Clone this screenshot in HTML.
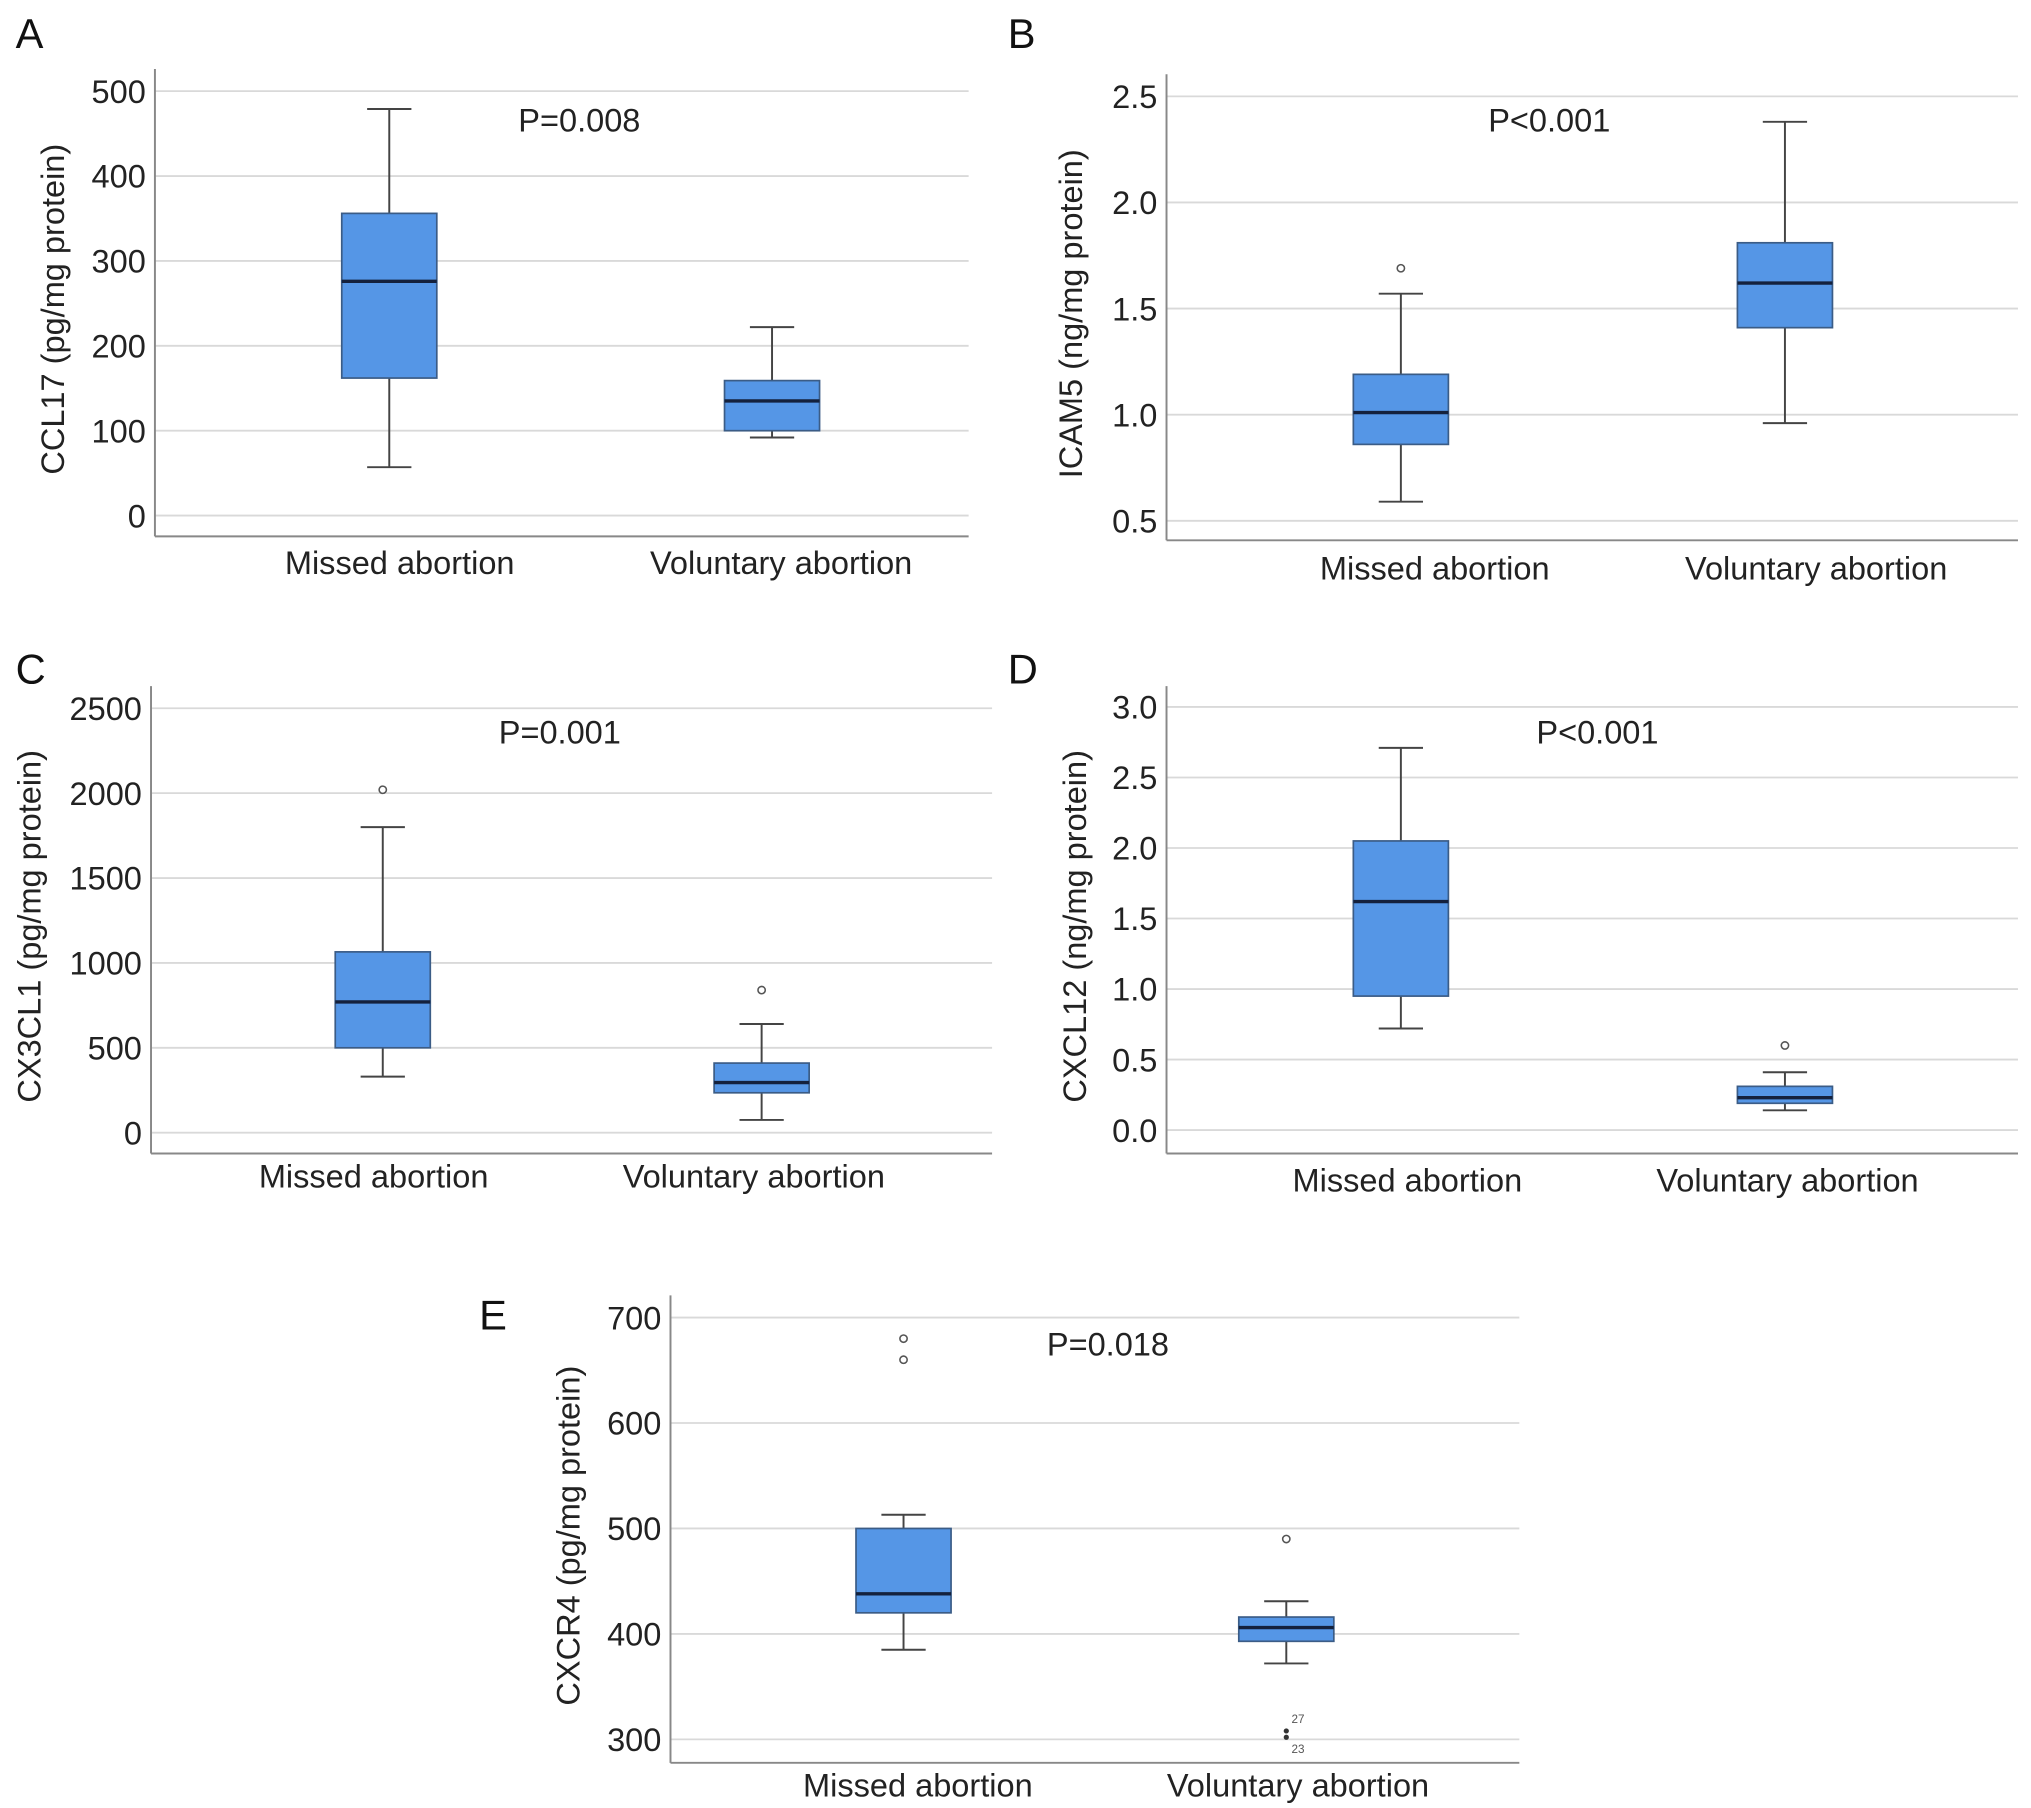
<!DOCTYPE html>
<html><head><meta charset="utf-8"><style>
html,body{margin:0;padding:0;background:#fff;}
svg{display:block;font-family:"Liberation Sans",Arial,sans-serif;}
</style></head><body>
<svg id="fig" width="2031" height="1808" viewBox="0 0 1560 1388.7" xmlns="http://www.w3.org/2000/svg"></svg>
<script>
// Data
const categories = ["Missed abortion", "Voluntary abortion"];
const panelLetters = ["A", "B", "C", "D", "E"];
const yTitles = ["CCL17 (pg/mg protein)", "ICAM5 (ng/mg protein)", "CX3CL1 (pg/mg protein)", "CXCL12 (ng/mg protein)", "CXCR4 (pg/mg protein)"];
const pTexts = ["P=0.008", "P<0.001", "P=0.001", "P<0.001", "P=0.018"];
const ticksA = [0, 100, 200, 300, 400, 500];
const ticksB = [0.5, 1.0, 1.5, 2.0, 2.5];
const ticksC = [0, 500, 1000, 1500, 2000, 2500];
const ticksD = [0.0, 0.5, 1.0, 1.5, 2.0, 2.5, 3.0];
const ticksE = [300, 400, 500, 600, 700];
// [min, q1, median, q3, max] per category
const statsA = [[57, 162, 276, 356, 479], [92, 100, 135, 159, 222]];
const statsB = [[0.59, 0.86, 1.01, 1.19, 1.57], [0.96, 1.41, 1.62, 1.81, 2.38]];
const statsC = [[330, 500, 770, 1065, 1800], [75, 235, 295, 410, 640]];
const statsD = [[0.72, 0.95, 1.62, 2.05, 2.71], [0.14, 0.19, 0.23, 0.31, 0.41]];
const statsE = [[385, 420, 438, 500, 513], [372, 393, 406, 416, 431]];
const outliersA = [[], []];
const outliersB = [[1.69], []];
const outliersC = [[2020], [840]];
const outliersD = [[], [0.60]];
const outliersE = [[660, 680], [490]];
const extremesE = [[], [308, 302]];
const extremeLabelsE = [[], ["27", "23"]];

const NS = "http://www.w3.org/2000/svg";
const svg = document.getElementById("fig");
function mk(tag, attrs, parent, text) {
  const e = document.createElementNS(NS, tag);
  for (const k in attrs) e.setAttribute(k, attrs[k]);
  if (text !== undefined) e.textContent = text;
  (parent || svg).appendChild(e);
  return e;
}
function fmt(v, dec) { return v.toFixed(dec); }

const FS = 25;
const layouts = [
  {ax:119, top:53, bot:412, right:744, y0:396, y1:70, boxX:[299,593], labX:[307,600], labY:441, letter:[12,37], titleX:49, pX:445, pY:101, dec:0},
  {ax:896, top:57, bot:415, right:1550, y0:400, y1:74, boxX:[1076,1371], labX:[1102,1395], labY:445, letter:[774,37], titleX:831, pX:1190, pY:101, dec:1},
  {ax:116, top:527, bot:886, right:762, y0:870, y1:544, boxX:[294,585], labX:[287,579], labY:912, letter:[12,525], titleX:31, pX:430, pY:571, dec:0},
  {ax:896, top:527, bot:886, right:1550, y0:868, y1:543, boxX:[1076,1371], labX:[1081,1373], labY:915, letter:[774,525], titleX:834, pX:1227, pY:571, dec:1},
  {ax:515, top:995, bot:1354, right:1167, y0:1336, y1:1012, boxX:[694,988], labX:[705,997], labY:1380, letter:[368,1021], titleX:445, pX:851, pY:1041, dec:0}
];
const allTicks = [ticksA, ticksB, ticksC, ticksD, ticksE];
const allStats = [statsA, statsB, statsC, statsD, statsE];
const allOut = [outliersA, outliersB, outliersC, outliersD, outliersE];
const allExt = [[[],[]], [[],[]], [[],[]], [[],[]], extremesE];
const allExtLab = [[[],[]], [[],[]], [[],[]], [[],[]], extremeLabelsE];
const panelNames = ["ccl17", "icam5", "cx3cl1", "cxcl12", "cxcr4"];

layouts.forEach((L, p) => {
  const ticks = allTicks[p];
  const tMin = ticks[0], tMax = ticks[ticks.length - 1];
  const y = v => L.y0 + (v - tMin) / (tMax - tMin) * (L.y1 - L.y0);
  const g = mk("g", {});
  
  
  ticks.forEach(t => {
    const gl = mk("line", {x1:L.ax, x2:L.right, y1:y(t), y2:y(t), stroke:"#d9d9d9", "stroke-width":1.4}, g);
    
    
    const tl = mk("text", {x:L.ax - 7, y:y(t) + 9, "text-anchor":"end", "font-size":FS, fill:"#222"}, g, fmt(t, L.dec));
    
    
  });
  const ya = mk("line", {x1:L.ax, x2:L.ax, y1:L.top, y2:L.bot, stroke:"#888", "stroke-width":1.5}, g);
  
  
  const xa = mk("line", {x1:L.ax, x2:L.right, y1:L.bot, y2:L.bot, stroke:"#888", "stroke-width":1.5}, g);
  
  
  const cy = (L.top + L.bot) / 2 + 5;
  const yt = mk("text", {x:L.titleX, y:cy, "text-anchor":"middle", "font-size":FS, fill:"#222", transform:"rotate(-90 " + L.titleX + " " + cy + ")"}, g, yTitles[p]);
  
  
  const pl = mk("text", {x:L.letter[0], y:L.letter[1], "font-size":32, fill:"#111"}, g, panelLetters[p]);
  
  
  const pv = mk("text", {x:L.pX, y:L.pY, "text-anchor":"middle", "font-size":FS, fill:"#222"}, g, pTexts[p]);
  
  
  categories.forEach((c, i) => {
    const s = allStats[p][i];
    const cx = L.boxX[i], w = 73, cap = 17;
    const bg = mk("g", {}, g);
    
    
    mk("line", {x1:cx, x2:cx, y1:y(s[0]), y2:y(s[4]), stroke:"#444", "stroke-width":1.5}, bg);
    mk("line", {x1:cx-cap, x2:cx+cap, y1:y(s[0]), y2:y(s[0]), stroke:"#444", "stroke-width":1.5}, bg);
    mk("line", {x1:cx-cap, x2:cx+cap, y1:y(s[4]), y2:y(s[4]), stroke:"#444", "stroke-width":1.5}, bg);
    mk("rect", {x:cx-w/2, y:y(s[3]), width:w, height:y(s[1]) - y(s[3]), fill:"#5596e6", stroke:"#3b5c86", "stroke-width":1.3}, bg);
    mk("line", {x1:cx-w/2, x2:cx+w/2, y1:y(s[2]), y2:y(s[2]), stroke:"#14213d", "stroke-width":2.6}, bg);
    allOut[p][i].forEach(o => {
      const oc = mk("circle", {cx:cx, cy:y(o), r:2.8, fill:"#fff", stroke:"#555", "stroke-width":1.2}, bg);
      
      
    });
    allExt[p][i].forEach((o, k) => {
      const ec = mk("circle", {cx:cx, cy:y(o), r:2, fill:"#333"}, bg);
      
      
      const et = mk("text", {x:cx + 4, y:y(o) + (k === 0 ? -6 : 12), "font-size":9, fill:"#555"}, bg, allExtLab[p][i][k]);
      
      
    });
    const xl = mk("text", {x:L.labX[i], y:L.labY, "text-anchor":"middle", "font-size":FS, fill:"#222"}, g, c);
    
    
  });
});
</script>
</body></html>
